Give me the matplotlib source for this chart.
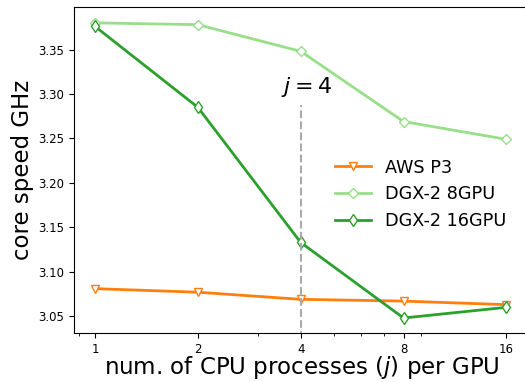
import matplotlib
matplotlib.use('Agg')
import matplotlib.pyplot as plt
from matplotlib.ticker import NullFormatter

# CPU processes per GPU
procs = [1, 2, 4, 8, 16]
tick_labels = ['1', '2', '4', '8', '16']

# core speed (GHz)
aws_p3 = [3.081, 3.077, 3.069, 3.067, 3.063]
dgx_8gpu = [3.380, 3.378, 3.348, 3.269, 3.249]
dgx_16gpu = [3.376, 3.285, 3.133, 3.048, 3.060]

fig = plt.figure(figsize=(5.25, 3.82), dpi=100)
ax = fig.add_axes([0.141, 0.128, 0.869, 0.854])

ax.plot(procs, aws_p3, color='#ff7f0e', marker='v', mfc='white', ms=6, lw=2, label='AWS P3')
ax.plot(procs, dgx_8gpu, color='#98df8a', marker='D', mfc='white', ms=5.5, lw=2, label='DGX-2 8GPU')
ax.plot(procs, dgx_16gpu, color='#2ca02c', marker='d', mfc='white', ms=6.5, lw=2, label='DGX-2 16GPU')

# marker for j = 4
ax.vlines(4, 3.0, 3.288, colors='#aaaaaa', linestyles='--', lw=1.5)
ax.text(4.15, 3.294, '$j=4$', fontsize=16, ha='center', va='bottom')

ax.set_xscale('log')
ax.set_xticks(procs)
ax.set_xticklabels(tick_labels)
ax.xaxis.set_minor_formatter(NullFormatter())
ax.set_xlim(0.868, 18.8)
ax.set_ylim(3.031, 3.398)
ax.set_yticks([3.05, 3.10, 3.15, 3.20, 3.25, 3.30, 3.35])
ax.tick_params(labelsize=8.5)
ax.spines['right'].set_visible(False)

ax.set_xlabel('num. of CPU processes ($j$) per GPU', fontsize=16.5, labelpad=-1)
ax.set_ylabel('core speed GHz', fontsize=16.5, labelpad=3)

ax.legend(loc='center left', bbox_to_anchor=(0.538, 0.425), frameon=False, fontsize=12.7,
          handlelength=2.0, labelspacing=0.5)

fig.savefig('out.png', dpi=100)
